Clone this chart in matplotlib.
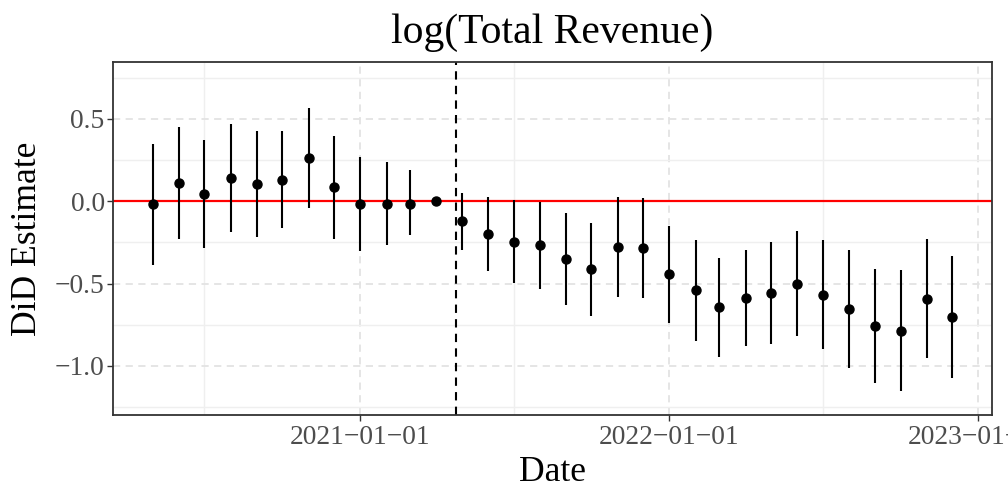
import matplotlib
matplotlib.use("Agg")
import matplotlib.pyplot as plt
import matplotlib.dates as mdates
import numpy as np
import pandas as pd

dates = pd.date_range("2020-05-01", "2022-12-01", freq="MS")
estimates = [-0.018, 0.113, 0.046, 0.140, 0.105, 0.131, 0.265, 0.087, -0.016, -0.015, -0.015, 0.0,
             -0.121, -0.197, -0.245, -0.264, -0.350, -0.413, -0.279, -0.285, -0.443, -0.539, -0.644,
             -0.585, -0.557, -0.500, -0.567, -0.654, -0.755, -0.786, -0.591, -0.701]
upper = [0.348, 0.453, 0.370, 0.468, 0.427, 0.427, 0.565, 0.398, 0.271, 0.239, 0.188, 0.0,
         0.049, 0.026, 0.006, -0.002, -0.073, -0.132, 0.026, 0.018, -0.150, -0.237, -0.344,
         -0.294, -0.247, -0.180, -0.235, -0.294, -0.409, -0.419, -0.231, -0.332]
lower = [-0.385, -0.229, -0.282, -0.186, -0.217, -0.164, -0.039, -0.227, -0.300, -0.265, -0.205, 0.0,
         -0.296, -0.421, -0.498, -0.531, -0.628, -0.696, -0.583, -0.589, -0.737, -0.847, -0.944,
         -0.878, -0.868, -0.821, -0.899, -1.014, -1.105, -1.152, -0.951, -1.075]
event_date = pd.Timestamp("2021-04-24")
title = "log(Total Revenue)"
major_x = [pd.Timestamp(f"{y}-01-01") for y in (2021, 2022, 2023)]
minor_x = [pd.Timestamp(f"{y}-07-01") for y in (2020, 2021, 2022)]
y_major = [-1.0, -0.5, 0.0, 0.5]
y_minor = [-1.25, -0.75, -0.25, 0.25, 0.75]

plt.rcParams['font.family'] = ['Liberation Serif', 'DejaVu Serif']

fig = plt.figure(figsize=(10.08, 4.87), dpi=100)
ax = fig.add_axes([113 / 1008, 1 - 415 / 487, (992 - 113) / 1008, (415 - 62) / 487])

x = mdates.date2num(dates)
ax.set_xlim(mdates.date2num(pd.Timestamp("2020-03-15")), mdates.date2num(pd.Timestamp("2023-01-17")))
ax.set_ylim(-1.298, 0.846)

ax.set_xticks(mdates.date2num(major_x))
ax.set_xticks(mdates.date2num(minor_x), minor=True)
ax.set_xticklabels([d.strftime("%Y\u2212%m\u2212%d") for d in major_x])
ax.set_yticks(y_major)
ax.set_yticklabels([f"{v:.1f}".replace("-", "\u2212") for v in y_major])
ax.set_yticks(y_minor, minor=True)
ax.grid(True, which='major', color='#E3E3E3', linestyle=(0, (4, 3)), linewidth=1.3)
ax.grid(True, which='minor', color='#EFEFEF', linestyle='-', linewidth=1.0)
ax.set_axisbelow(True)

ax.tick_params(which='major', length=4, width=1.0, color='#333333', labelcolor='#4D4D4D',
               labelsize=19.8, pad=2)
ax.tick_params(axis='x', which='major', pad=3.5)
ax.tick_params(which='minor', length=0)
for s in ax.spines.values():
    s.set_color('#333333')
    s.set_linewidth(1.3)

ax.axhline(0, color='red', linewidth=1.6, zorder=2)
ax.axvline(mdates.date2num(event_date), color='black', linestyle=(0, (4, 3)), linewidth=1.5, zorder=2)
ax.vlines(x, lower, upper, color='black', linewidth=1.5, zorder=3)
ax.plot(x, estimates, 'o', color='black', markersize=6.5, zorder=4)

ax.set_title(title, fontsize=30, pad=14)
ax.set_xlabel("Date", fontsize=25.7, labelpad=4)
ax.set_ylabel("DiD Estimate", fontsize=25.7, labelpad=7.5)

fig.savefig("out.png", dpi=100)
